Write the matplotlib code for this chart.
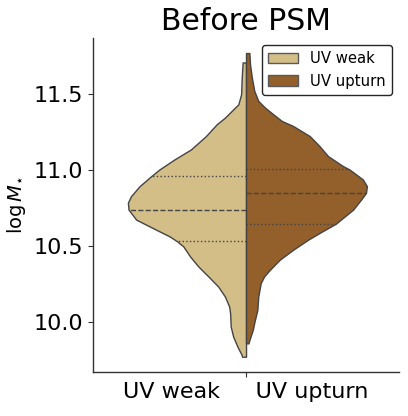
import numpy as np
import matplotlib.pyplot as plt
from matplotlib.patches import Patch

# outline of each half of the split violin
# logM values (bottom -> top) and half width in x axis units
weak_logm = [9.773, 9.784, 9.839, 9.905, 9.971, 10.059, 10.103, 10.169, 10.235,
             10.301, 10.367, 10.433, 10.499, 10.532, 10.565, 10.609, 10.675,
             10.741, 10.787, 10.829, 10.895, 10.961, 11.005, 11.071, 11.137,
             11.225, 11.302, 11.346, 11.390, 11.434, 11.500, 11.610, 11.709]
weak_width = [0.013, 0.014, 0.028, 0.042, 0.050, 0.052, 0.055, 0.069, 0.091,
              0.123, 0.156, 0.183, 0.205, 0.225, 0.250, 0.294, 0.359,
              0.384, 0.386, 0.376, 0.348, 0.310, 0.283, 0.234, 0.180,
              0.131, 0.096, 0.069, 0.047, 0.025, 0.016, 0.014, 0.011]

upturn_logm = [9.861, 9.883, 9.949, 10.015, 10.081, 10.169, 10.257, 10.301, 10.345,
               10.411, 10.477, 10.543, 10.587, 10.649, 10.741, 10.807, 10.851,
               10.895, 10.939, 11.005, 11.027, 11.093, 11.159, 11.225, 11.291,
               11.324, 11.368, 11.412, 11.456, 11.522, 11.610, 11.698, 11.771]
upturn_width = [0.008, 0.011, 0.022, 0.029, 0.037, 0.040, 0.048, 0.059, 0.078,
                0.110, 0.154, 0.203, 0.240, 0.294, 0.350, 0.376, 0.392,
                0.395, 0.382, 0.338, 0.317, 0.268, 0.240, 0.208, 0.154,
                0.117, 0.089, 0.062, 0.040, 0.027, 0.019, 0.013, 0.011]

# lower quartile, median, upper quartile
weak_quart = [10.532, 10.741, 10.961]
upturn_quart = [10.649, 10.851, 11.005]

labels = ['UV weak', 'UV upturn']
colors = ['#d4be88', '#935f2b']
edgecol = '#444444'

fig = plt.figure(figsize=(4.08, 4.16), dpi=100)
ax = fig.add_axes([0.228, 0.106, 0.75, 0.803])


def half_violin(logm, width, quart, side, color):
    w = np.array(width) * side
    ax.fill_betweenx(logm, 0, w, facecolor=color, edgecolor=edgecol, linewidth=1.0, zorder=2)
    # quartile lines stop at the outline
    for q, ls in zip(quart, [':', '--', ':']):
        xend = np.interp(q, logm, width) * side
        ax.plot([0, xend], [q, q], ls=ls, color=edgecol, lw=1.0, zorder=3)


half_violin(weak_logm, weak_width, weak_quart, -1, colors[0])
half_violin(upturn_logm, upturn_width, upturn_quart, 1, colors[1])

ax.set_xlim(-0.5, 0.5)
ax.margins(y=0.05)
ax.set_xticks([0])
ax.set_xticklabels(['UV weak     UV upturn'], fontsize=16)
ax.set_yticks([10.0, 10.5, 11.0, 11.5])
ax.set_yticklabels(['10.0', '10.5', '11.0', '11.5'], fontsize=16)
ax.set_ylabel(r'$\log M_{\star}$', fontsize=14)
ax.set_title('Before PSM', fontsize=21.5)

for s in ['top', 'right']:
    ax.spines[s].set_visible(False)
for s in ['left', 'bottom']:
    ax.spines[s].set_color('0.2')
    ax.spines[s].set_linewidth(1.0)
ax.tick_params(color='0.2')

handles = [Patch(facecolor=c, edgecolor='0.35', label=l) for c, l in zip(colors, labels)]
leg = ax.legend(handles=handles, loc='upper right', fontsize=10.7, fancybox=True)
leg.get_frame().set_edgecolor('0.15')
leg.get_frame().set_alpha(1)

fig.savefig('out.png', dpi=100)
